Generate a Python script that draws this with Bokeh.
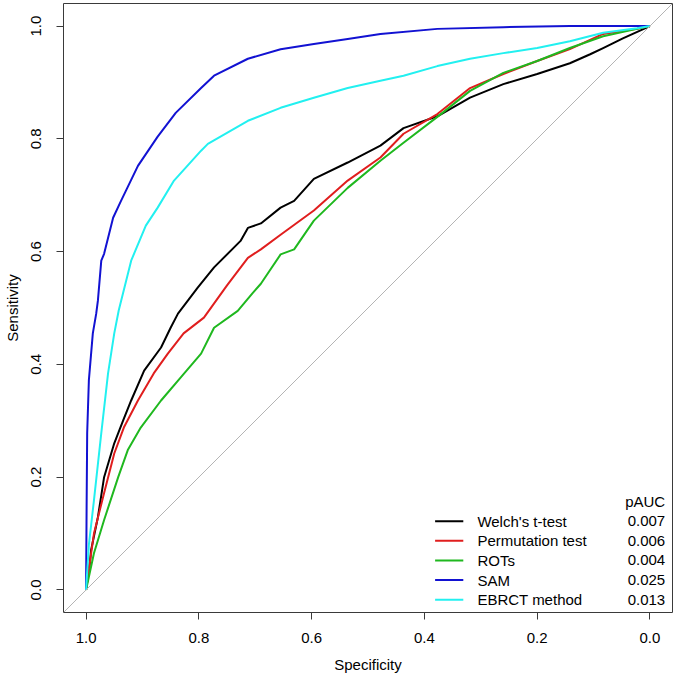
from bokeh.plotting import figure
from bokeh.models import Range1d, FixedTicker, PrintfTickFormatter, Slope
from bokeh.core.properties import value
from bokeh.embed import file_html
from bokeh.resources import INLINE

# ---- data ----
welch_spec = [1.0, 0.993, 0.991, 0.979, 0.968, 0.950, 0.934, 0.920, 0.897, 0.867, 0.850, 0.837,
              0.802, 0.773, 0.726, 0.713, 0.690, 0.655, 0.631, 0.596, 0.536, 0.478, 0.437, 0.377,
              0.319, 0.260, 0.200, 0.142, 0.106, 0.083, 0.048, 0.0]
welch_sens = [0.0, 0.050, 0.071, 0.129, 0.200, 0.260, 0.301, 0.336, 0.389, 0.430, 0.465, 0.490,
              0.536, 0.572, 0.619, 0.642, 0.650, 0.678, 0.690, 0.729, 0.758, 0.788, 0.819, 0.840,
              0.873, 0.897, 0.915, 0.934, 0.950, 0.961, 0.978, 1.0]

perm_spec = [1.0, 0.991, 0.986, 0.968, 0.950, 0.933, 0.908, 0.880, 0.855, 0.827, 0.791, 0.750,
             0.713, 0.690, 0.655, 0.596, 0.536, 0.478, 0.437, 0.377, 0.319, 0.260, 0.200, 0.142,
             0.083, 0.023, 0.0]
perm_sens = [0.0, 0.065, 0.100, 0.172, 0.242, 0.288, 0.336, 0.384, 0.419, 0.455, 0.483, 0.540,
             0.589, 0.604, 0.630, 0.673, 0.726, 0.767, 0.809, 0.844, 0.890, 0.915, 0.938, 0.959,
             0.986, 0.995, 1.0]

rots_spec = [1.0, 0.986, 0.968, 0.943, 0.926, 0.903, 0.867, 0.832, 0.796, 0.773, 0.731, 0.705,
             0.690, 0.655, 0.631, 0.596, 0.536, 0.478, 0.437, 0.377, 0.319, 0.260, 0.200, 0.142,
             0.083, 0.023, 0.0]
rots_sens = [0.0, 0.065, 0.124, 0.200, 0.248, 0.288, 0.336, 0.377, 0.419, 0.465, 0.495, 0.526,
             0.543, 0.595, 0.604, 0.655, 0.713, 0.761, 0.793, 0.839, 0.885, 0.917, 0.938, 0.961,
             0.982, 0.995, 1.0]

sam_spec = [1.0, 0.999, 0.998, 0.995, 0.988, 0.982, 0.979, 0.973, 0.968, 0.952, 0.938, 0.908,
            0.873, 0.841, 0.796, 0.773, 0.713, 0.655, 0.596, 0.536, 0.478, 0.377, 0.260, 0.142, 0.0]
sam_sens = [0.0, 0.150, 0.278, 0.372, 0.455, 0.490, 0.513, 0.584, 0.596, 0.660, 0.690, 0.752,
            0.804, 0.846, 0.890, 0.912, 0.942, 0.959, 0.968, 0.977, 0.986, 0.995, 0.998, 1.0, 1.0]

ebrct_spec = [1.0, 0.995, 0.986, 0.973, 0.961, 0.950, 0.942, 0.920, 0.894, 0.873, 0.844, 0.796,
              0.784, 0.713, 0.655, 0.596, 0.536, 0.478, 0.437, 0.377, 0.319, 0.260, 0.200, 0.142,
              0.083, 0.023, 0.0]
ebrct_sens = [0.0, 0.080, 0.159, 0.278, 0.384, 0.455, 0.496, 0.584, 0.646, 0.678, 0.726, 0.779,
              0.791, 0.832, 0.855, 0.873, 0.890, 0.903, 0.912, 0.929, 0.942, 0.952, 0.961, 0.973,
              0.988, 0.996, 1.0]

methods = ["Welch's t-test", "Permutation test", "ROTs", "SAM", "EBRCT method"]
pauc = ["0.007", "0.006", "0.004", "0.025", "0.013"]
colors = ["#000000", "#e01e1e", "#1fb81f", "#1212d2", "#22f0f0"]
ticks = [0.0, 0.2, 0.4, 0.6, 0.8, 1.0]

curves = [(welch_spec, welch_sens), (perm_spec, perm_sens), (rots_spec, rots_sens),
          (sam_spec, sam_sens), (ebrct_spec, ebrct_sens)]

FONT = "Liberation Sans"

p = figure(frame_width=609, frame_height=609, output_backend="svg", toolbar_location=None,
           x_range=Range1d(1.04, -0.04), y_range=Range1d(-0.04, 1.04),
           min_border_left=62, min_border_right=2, min_border_top=3, min_border_bottom=64,
           x_axis_label="Specificity", y_axis_label="Sensitivity")
p.xgrid.visible = False
p.ygrid.visible = False
p.outline_line_color = "#3a3a3a"
p.outline_line_width = 1
p.background_fill_color = "white"
p.border_fill_color = "white"

for ax in (p.xaxis[0], p.yaxis[0]):
    ax.ticker = FixedTicker(ticks=ticks)
    ax.formatter = PrintfTickFormatter(format="%.1f")
    ax.axis_line_color = None
    ax.major_tick_line_color = "#3a3a3a"
    ax.major_tick_out = 7
    ax.major_tick_in = 0
    ax.minor_tick_line_color = None
    ax.major_label_text_font = FONT
    ax.major_label_text_font_size = "15px"
    ax.major_label_text_color = "black"
    ax.axis_label_text_font = FONT
    ax.axis_label_text_font_size = "15px"
    ax.axis_label_text_font_style = "normal"
    ax.axis_label_text_color = "black"

p.xaxis.major_label_standoff = 13
p.xaxis.axis_label_standoff = 10
p.yaxis.major_label_orientation = "vertical"
p.yaxis.major_label_standoff = 15
p.yaxis.axis_label_standoff = 8

p.add_layout(Slope(gradient=-1, y_intercept=1, line_color="#b4b4b4", line_width=1))

for (xs, ys), c in zip(curves, colors):
    p.line(xs, ys, line_color=c, line_width=2, line_join="round")

# legend (drawn manually, R style, no box)
row_y = [0.122 - 0.0348 * i for i in range(len(methods))]
p.segment(x0=[0.381] * len(methods), x1=[0.331] * len(methods), y0=row_y, y1=row_y,
          line_color=colors, line_width=2)
p.text(x=[0.306] * len(methods), y=row_y, text=methods, text_font=value(FONT),
       text_font_size="15px", text_baseline="middle", text_align="left", text_color="black")
p.text(x=[-0.027] * len(pauc), y=row_y, text=pauc, text_font=value(FONT),
       text_font_size="15px", text_baseline="middle", text_align="right", text_color="black")
p.text(x=[-0.027], y=[0.157], text=["pAUC"], text_font=value(FONT),
       text_font_size="15px", text_baseline="middle", text_align="right", text_color="black")

open("out.html", "w").write(file_html(p, INLINE))
